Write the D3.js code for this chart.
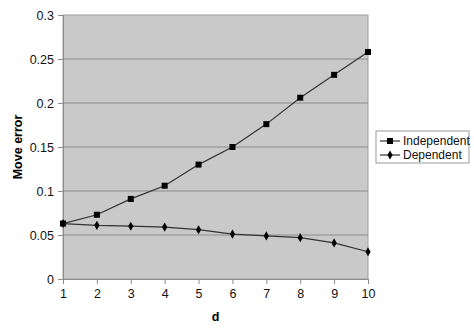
<!DOCTYPE html>
<html>
<head>
<meta charset="utf-8">
<script src="https://cdn.jsdelivr.net/npm/d3@7"></script>
<style>
  body { margin: 0; background: #fff; }
  text { font-family: "Liberation Sans", Arial, sans-serif; }
</style>
</head>
<body>
<div id="chart"></div>
<script>
// chart data
var dValues = [1, 2, 3, 4, 5, 6, 7, 8, 9, 10];
var independent = [0.063, 0.073, 0.091, 0.106, 0.130, 0.150, 0.176, 0.206, 0.232, 0.258];
var dependent = [0.063, 0.061, 0.060, 0.059, 0.056, 0.051, 0.049, 0.047, 0.041, 0.031];
var yTicks = [0, 0.05, 0.1, 0.15, 0.2, 0.25, 0.3];
var seriesNames = ["Independent", "Dependent"];

var width = 474, height = 333;
var margin = {left: 63, right: 106, top: 15, bottom: 54};

var svg = d3.select("#chart").append("svg")
    .attr("width", width)
    .attr("height", height);

var xScale = d3.scaleLinear()
    .domain([1, 10])
    .range([margin.left, width - margin.right]);

var yScale = d3.scaleLinear()
    .domain([0, 0.3])
    .range([height - margin.bottom, margin.top]);

// plot area
svg.append("rect")
    .attr("x", xScale(1))
    .attr("y", yScale(0.3))
    .attr("width", xScale(10) - xScale(1))
    .attr("height", yScale(0) - yScale(0.3))
    .attr("fill", "#c9c9c9")
    .attr("stroke", "#a0a0a0");

// gridlines
svg.selectAll(".grid")
    .data(yTicks.filter(function(t){ return t > 0 && t < 0.3; }))
    .enter().append("line")
    .attr("x1", xScale(1))
    .attr("x2", xScale(10))
    .attr("y1", function(d){ return yScale(d); })
    .attr("y2", function(d){ return yScale(d); })
    .attr("stroke", "#8c8c8c")
    .attr("stroke-width", 1);

var yAxis = d3.axisLeft(yScale)
    .tickValues(yTicks)
    .tickSize(5)
    .tickPadding(4)
    .tickFormat(function(d){ return d3.format("")(+d.toFixed(2)); });

var gy = svg.append("g")
    .attr("transform", "translate(" + xScale(1) + ",0)")
    .call(yAxis);

var xAxis = d3.axisBottom(xScale)
    .tickValues(dValues)
    .tickSize(5)
    .tickPadding(5)
    .tickFormat(d3.format("d"));

var gx = svg.append("g")
    .attr("transform", "translate(0," + yScale(0) + ")")
    .call(xAxis);

[gx, gy].forEach(function(g){
  g.select(".domain").attr("stroke", "#8c8c8c");
  g.selectAll(".tick line").attr("stroke", "#8c8c8c");
  g.selectAll(".tick text")
    .attr("fill", "#111")
    .style("font-size", "12.5px")
    .style("font-family", "Liberation Sans, Arial, sans-serif");
});

// axis titles
svg.append("text")
    .attr("x", (xScale(1) + xScale(10)) / 2)
    .attr("y", 321)
    .attr("text-anchor", "middle")
    .style("font-size", "12.5px")
    .style("font-weight", "bold")
    .text("d");

svg.append("text")
    .attr("transform", "translate(22," + ((yScale(0) + yScale(0.3)) / 2) + ") rotate(-90)")
    .attr("text-anchor", "middle")
    .style("font-size", "12.5px")
    .style("font-weight", "bold")
    .text("Move error");

var line = d3.line()
    .x(function(d, i){ return xScale(dValues[i]); })
    .y(function(d){ return yScale(d); });

// series lines
[independent, dependent].forEach(function(s){
  svg.append("path")
      .datum(s)
      .attr("d", line)
      .attr("fill", "none")
      .attr("stroke", "#333")
      .attr("stroke-width", 1.2);
});

// markers
svg.selectAll(".sq")
    .data(independent)
    .enter().append("rect")
    .attr("x", function(d, i){ return xScale(dValues[i]) - 3; })
    .attr("y", function(d){ return yScale(d) - 3; })
    .attr("width", 6)
    .attr("height", 6)
    .attr("fill", "#000");

svg.selectAll(".dia")
    .data(dependent)
    .enter().append("path")
    .attr("d", d3.symbol().type(d3.symbolDiamond).size(24))
    .attr("transform", function(d, i){ return "translate(" + xScale(dValues[i]) + "," + yScale(d) + ")"; })
    .attr("fill", "#000");

// legend
var legend = svg.append("g").attr("transform", "translate(376,131)");
legend.append("rect")
    .attr("width", 93)
    .attr("height", 32)
    .attr("fill", "#fff")
    .attr("stroke", "#999");

seriesNames.forEach(function(name, i){
  var yy = 10 + i * 14;
  legend.append("line")
      .attr("x1", 4).attr("x2", 24)
      .attr("y1", yy).attr("y2", yy)
      .attr("stroke", "#333").attr("stroke-width", 1.2);
  if (i === 0) {
    legend.append("rect")
        .attr("x", 11).attr("y", yy - 3)
        .attr("width", 6).attr("height", 6)
        .attr("fill", "#000");
  } else {
    legend.append("path")
        .attr("d", d3.symbol().type(d3.symbolDiamond).size(24))
        .attr("transform", "translate(14," + yy + ")")
        .attr("fill", "#000");
  }
  legend.append("text")
      .attr("x", 27)
      .attr("y", yy + 4)
      .style("font-size", "12px")
      .attr("fill", "#111")
      .text(name);
});
</script>
</body>
</html>
